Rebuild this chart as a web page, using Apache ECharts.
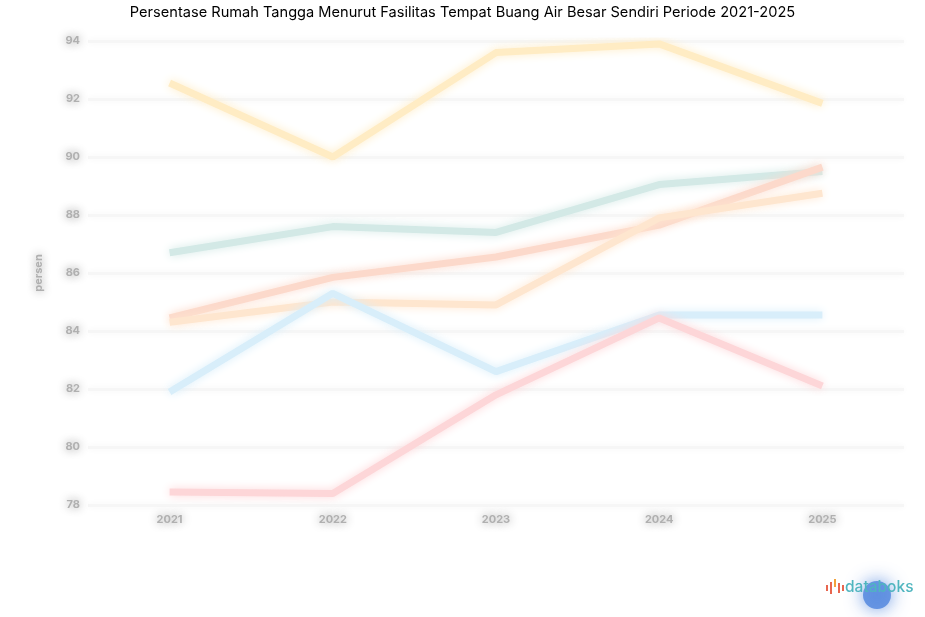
<!DOCTYPE html>
<html>
<head>
<meta charset="utf-8">
<script src="https://cdn.jsdelivr.net/npm/echarts@6/dist/echarts.min.js"></script>
<style>
html,body{margin:0;padding:0;background:#fff;}
#c{width:925px;height:617px;}
</style>
</head>
<body>
<div id="c"></div>
<script>
const titleText = 'Persentase Rumah Tangga Menurut Fasilitas Tempat Buang Air Besar Sendiri Periode 2021-2025';
const years = ['2021', '2022', '2023', '2024', '2025'];
const seriesA = [92.55, 90.0, 93.6, 93.9, 91.85];
const seriesB = [86.7, 87.6, 87.4, 89.05, 89.5];
const seriesC = [84.45, 85.85, 86.55, 87.65, 89.65];
const seriesD = [84.3, 85.0, 84.9, 87.9, 88.75];
const seriesE = [81.9, 85.3, 82.6, 84.55, 84.55];
const seriesF = [78.45, 78.4, 81.8, 84.45, 82.1];
const yName = 'persen';

const colors = ['#ffecc4', '#d3e9e6', '#fcd9cb', '#fee6cf', '#d8eefa', '#fdd6d8'];
const data = [seriesA, seriesB, seriesC, seriesD, seriesE, seriesF];

const chart = echarts.init(document.getElementById('c'));
const blurLabel = {
  color: '#b0b0b0', fontSize: 11, fontFamily: 'Inter', fontWeight: 'bold',
  textShadowColor: '#8a8a8a', textShadowBlur: 10
};
chart.setOption({
  animation: false,
  title: {
    text: titleText, left: 'center', top: 0,
    textStyle: {fontSize: 14.6, fontWeight: 'normal', color: '#000', fontFamily: 'Inter'}
  },
  grid: {left: 88, right: 21, top: 41, bottom: 112},
  xAxis: {
    type: 'category', data: years, boundaryGap: true,
    axisLine: {show: false}, axisTick: {show: false},
    axisLabel: Object.assign({margin: 9}, blurLabel)
  },
  yAxis: {
    type: 'value', min: 78, max: 94, interval: 2,
    name: yName, nameLocation: 'middle', nameGap: 44, nameRotate: 90,
    nameTextStyle: blurLabel,
    axisLabel: Object.assign({margin: 8}, blurLabel),
    splitLine: {lineStyle: {color: '#f6f6f6', width: 3, shadowColor: '#f3f3f3', shadowBlur: 6}}
  },
  series: data.map((d, i) => ({
    type: 'line', data: d, symbol: 'none', smooth: false,
    lineStyle: {color: colors[i], width: 7, shadowColor: colors[i], shadowBlur: 10}
  })),
  graphic: [
    {type: 'circle', shape: {cx: 877, cy: 595, r: 14},
     style: {fill: '#5b8de0', shadowColor: '#5b8de0', shadowBlur: 18, opacity: 0.9}, z: 10},
    {type: 'rect', shape: {x: 826, y: 585, width: 2, height: 6}, style: {fill: '#e8664f'}, z: 11},
    {type: 'rect', shape: {x: 830, y: 582, width: 2, height: 12}, style: {fill: '#e8664f'}, z: 11},
    {type: 'rect', shape: {x: 834, y: 579, width: 2, height: 8}, style: {fill: '#f3a23b'}, z: 11},
    {type: 'rect', shape: {x: 838, y: 583, width: 2, height: 10}, style: {fill: '#e8664f'}, z: 11},
    {type: 'rect', shape: {x: 842, y: 585, width: 2, height: 6}, style: {fill: '#e8664f'}, z: 11},
    {type: 'text', left: 845, top: 579,
     style: {text: 'databoks', fill: '#4fb5bf', font: '500 15.5px Inter'}, z: 11}
  ]
});
</script>
</body>
</html>
